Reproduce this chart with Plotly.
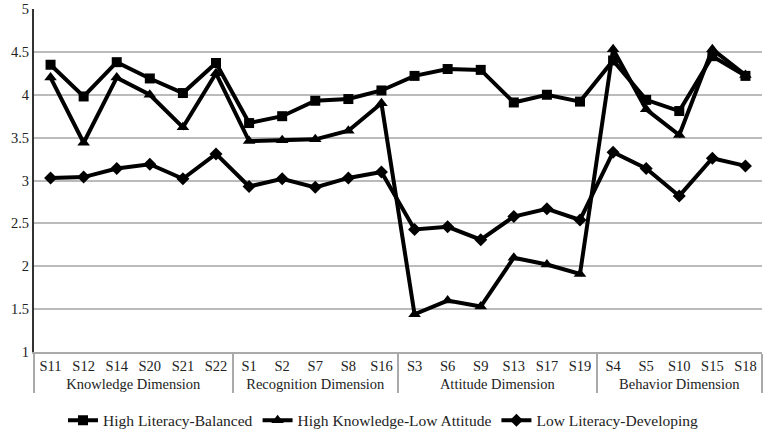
import plotly.graph_objects as go

dimensions = ["Knowledge Dimension"] * 6 + ["Recognition Dimension"] * 5 + ["Attitude Dimension"] * 6 + ["Behavior Dimension"] * 5
items = ["S11", "S12", "S14", "S20", "S21", "S22",
         "S1", "S2", "S7", "S8", "S16",
         "S3", "S6", "S9", "S13", "S17", "S19",
         "S4", "S5", "S10", "S15", "S18"]

high_literacy_balanced = [4.35, 3.98, 4.38, 4.19, 4.02, 4.37,
                          3.67, 3.75, 3.93, 3.95, 4.05,
                          4.22, 4.30, 4.29, 3.91, 4.00, 3.92,
                          4.40, 3.94, 3.81, 4.45, 4.22]
high_knowledge_low_attitude = [4.20, 3.44, 4.20, 4.00, 3.62, 4.25,
                               3.46, 3.47, 3.48, 3.58, 3.90,
                               1.44, 1.60, 1.53, 2.10, 2.02, 1.91,
                               4.53, 3.83, 3.53, 4.53, 4.23]
low_literacy_developing = [3.03, 3.04, 3.14, 3.19, 3.02, 3.31,
                           2.93, 3.02, 2.92, 3.03, 3.10,
                           2.43, 2.46, 2.31, 2.58, 2.67, 2.54,
                           3.33, 3.14, 2.82, 3.26, 3.17]

series = [
    ("High Literacy-Balanced", high_literacy_balanced, "square", 10),
    ("High Knowledge-Low Attitude", high_knowledge_low_attitude, "triangle-up", 11),
    ("Low Literacy-Developing", low_literacy_developing, "diamond", 10),
]

fig = go.Figure()
for name, vals, sym, sz in series:
    fig.add_trace(go.Scatter(
        x=[dimensions, items], y=vals, name=name, mode="lines+markers",
        line=dict(color="black", width=4),
        marker=dict(symbol=sym, size=sz, color="black"),
    ))

font = "Liberation Serif"
fig.update_layout(
    width=767, height=436,
    margin=dict(l=34, r=5, t=9, b=84),
    paper_bgcolor="white", plot_bgcolor="white",
    font=dict(family=font, size=14.5, color="#222"),
    showlegend=True,
    legend=dict(orientation="h", x=0.5, xanchor="center", xref="container",
                y=0.035, yanchor="middle", yref="container",
                font=dict(family=font, size=15.5), tracegroupgap=0),
    yaxis=dict(range=[1, 5], dtick=0.5, tick0=1, showgrid=True, gridcolor="#bbbbbb", gridwidth=1.5,
               showline=True, linecolor="#333", linewidth=2, ticks="", zeroline=False,
               tickfont=dict(family=font, size=14.5), automargin=False),
    xaxis=dict(type="multicategory", range=[-0.5, 21.5], autorange=False, tickangle=0,
               showline=True, linecolor="#aaaaaa", linewidth=1.5,
               showdividers=True, dividercolor="#aaaaaa", dividerwidth=1.5,
               tickfont=dict(family=font, size=14.5), ticks="", automargin=False),
)

fig.write_html("out.html")
